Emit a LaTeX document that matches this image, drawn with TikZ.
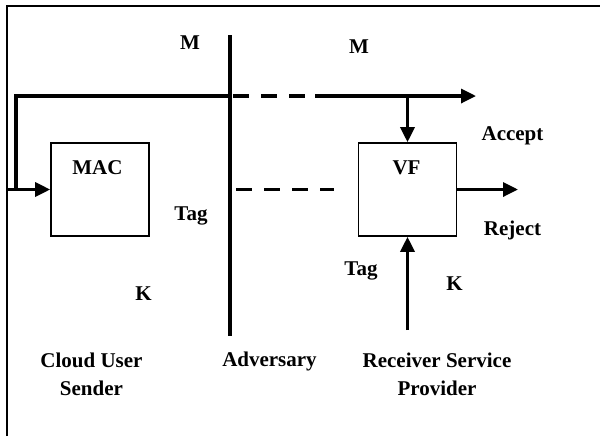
\documentclass[tikz,border=0pt]{standalone}
\usepackage{fontspec}
\setmainfont{Liberation Serif}
\usetikzlibrary{arrows.meta}
\begin{document}
\begin{tikzpicture}[x=0.5pt,y=-0.5pt,
  lbl/.style={font=\fontsize{10.5}{14}\selectfont\bfseries, inner sep=0pt, align=center, anchor=base},
  box/.style={draw, line width=0.8pt, minimum width=49pt, minimum height=46.5pt, inner sep=0pt},
  heavy/.style={line width=1.65pt},
  flow/.style={heavy, -{Triangle[length=7.5pt,width=7pt]}},
  gapline/.style={heavy, dash pattern=on 8pt off 6pt}]
\useasboundingbox (0,0) rectangle (600,436);

% outer frame (left and top edges)
\draw[line width=1pt] (7,436) -- (7,6) -- (600,6);

% processing blocks
\node[box] (mac) at (100,189.5) {};
\node[box] (vf)  at (407.5,189.5) {};

% trust boundary held by the adversary
\coordinate (advtop) at (230,35);
\coordinate (advbot) at (230,336);
\draw[heavy] (advtop) -- (advbot);

% message path
\coordinate (in)     at (7,189.5);
\coordinate (split)  at (16,189.5);
\coordinate (mcorner) at (16,96);
\coordinate (mcross) at (230,96);
\coordinate (mdash0) at (233,96);
\coordinate (mdash1) at (310,96);
\coordinate (mres)   at (315,96);
\coordinate (mtap)   at (407.5,96);
\coordinate (mout)   at (476,96);
\draw[flow] (in) -- (mac.west);
\draw[heavy] (split) -- (mcorner) -- (mcross);
\draw[gapline] (mdash0) -- (mdash1);
\draw[flow] (mres) -- (mout);
\draw[flow] (mtap) -- (vf.north);

% tag path
\coordinate (tdash0) at (236,189.5);
\coordinate (tdash1) at (334,189.5);
\draw[gapline] (tdash0) -- (tdash1);

% verifier output and key input
\coordinate (vout) at (518,189.5);
\coordinate (kin)  at (407.5,330);
\draw[flow] (vf.east) -- (vout);
\draw[flow] (kin) -- (vf.south);

% labels
\node[lbl] (macl)  at (97.5,174) {MAC};
\node[lbl] (vfl)   at (406.5,174) {VF};
\node[lbl] (m1)    at (190,49) {M};
\node[lbl] (m2)    at (359,53) {M};
\node[lbl] (tag1)  at (191,220) {Tag};
\node[lbl] (tag2)  at (361,275) {Tag};
\node[lbl] (k1)    at (143.5,300) {K};
\node[lbl] (k2)    at (454.5,290) {K};
\node[lbl] (acc)   at (512.5,140) {Accept};
\node[lbl] (rej)   at (512.5,235) {Reject};
\node[lbl] (user)  at (91.5,395) {Cloud User\\Sender};
\node[lbl] (adv)   at (269.5,366) {Adversary};
\node[lbl] (recv)  at (437,395) {Receiver Service\\Provider};
\end{tikzpicture}
\end{document}
